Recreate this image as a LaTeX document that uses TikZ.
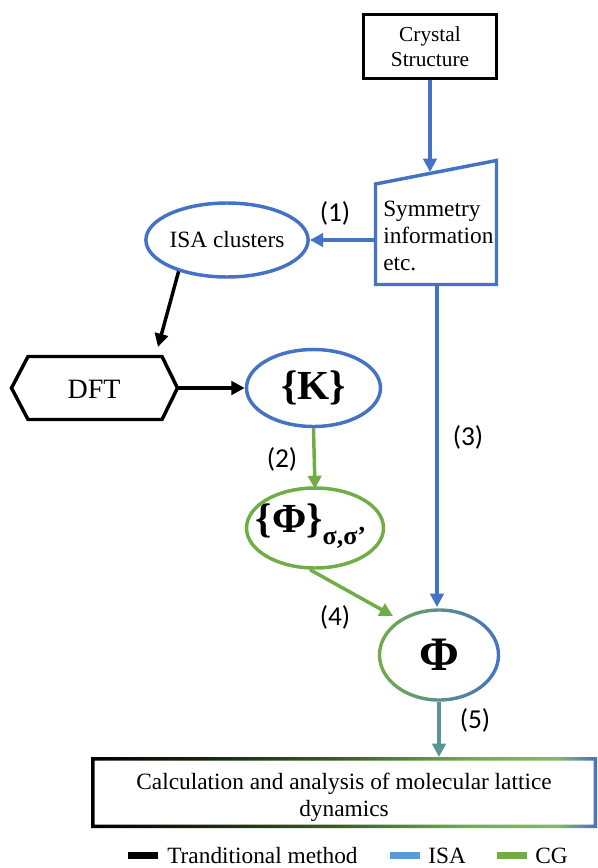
\documentclass[tikz,border=0pt]{standalone}
\usepackage{fontspec}
\setmainfont{Liberation Serif}
\newfontfamily\labfont{Carlito}
\usetikzlibrary{shapes.geometric,arrows.meta}
\definecolor{cblue}{HTML}{4472C4}
\definecolor{cgreen}{HTML}{70AD47}
\definecolor{lblue}{HTML}{5B9BD5}
\definecolor{cteal}{HTML}{5A9691}
\pgfdeclarehorizontalshading{boxshade}{100bp}{color(0bp)=(black); color(25bp)=(black); color(36bp)=(black!80!cgreen); color(50bp)=(black!45!cgreen); color(62bp)=(cgreen); color(71bp)=(cgreen!85!white); color(75bp)=(cblue); color(100bp)=(cblue)}
\tikzset{
  lw/.style={line width=2.6pt},
  tip/.style={-{Triangle[length=10pt,width=10pt]}},
  bluearr/.style={lw, cblue, tip},
  greenarr/.style={lw, cgreen, tip},
  blackarr/.style={lw, black, tip},
  ell/.style={ellipse, lw, inner sep=0pt},
  lab/.style={font=\labfont\fontsize{20.5}{22}\selectfont},
  txt/.style={font=\fontsize{17.5}{21}\selectfont}
}
\begin{document}
\begin{tikzpicture}[x=0.75pt,y=-0.75pt]
\useasboundingbox (0,0) rectangle (597,868);
% Crystal structure
\node[draw, lw, minimum width=99.75pt, minimum height=48pt, align=center, inner sep=0pt, font=\fontsize{16}{19}\selectfont] (crystal) at (430,46.5) {Crystal\\Structure};
% trapezoid (manual input)
\coordinate (tl) at (375.5,184);
\coordinate (tr) at (496.5,160.5);
\coordinate (br) at (496.5,284.5);
\coordinate (bl) at (375.5,284.5);
\draw[lw, cblue, line join=miter] (tl) -- (tr) -- (br) -- (bl) -- cycle;
\node[align=left, anchor=west, inner sep=0pt, font=\fontsize{17.5}{20.2}\selectfont] (sym) at (383,236) {Symmetry\\information\\etc.};
\coordinate (symL) at (375.5,240);
\coordinate (symTop) at (430,172);
\coordinate (symB1) at (437,284.5);
% ISA clusters
\node[draw=cblue, ell, minimum width=102.75pt, minimum height=55.5pt, txt] (isa) at (227,240) {ISA clusters};
% DFT hexagon
\draw[lw, line join=miter] (11.5,388) -- (28,356.5) -- (162,356.5) -- (177.5,388) -- (162,419.5) -- (28,419.5) -- cycle;
\node[font=\fontsize{21}{24}\selectfont] (dft) at (94,389) {DFT};
\coordinate (dftR) at (177.5,388);
\coordinate (dftT) at (158,347);
% K
\node[draw=cblue, ell, minimum width=100.5pt, minimum height=57.75pt, font=\bfseries\fontsize{31}{33}\selectfont] (K) at (313.5,388) {\{K\}};
% Phi sigma
\node[draw=cgreen, ell, minimum width=102.75pt, minimum height=60pt] (phis) at (315,528) {};
\node[inner sep=0pt] (phistxt) at (311,526) {\raisebox{2pt}{\bfseries\fontsize{31}{33}\selectfont\{Φ\}}\raisebox{-7pt}{\bfseries\fontsize{19.5}{20}\selectfont σ,σ’}};
% Phi
\node[ell, minimum width=89.25pt, minimum height=66pt, font=\bfseries\fontsize{36}{38}\selectfont] (phi) at (439,655) {Φ};
\shade[left color=cgreen, right color=cblue, even odd rule] (439,655) ellipse [x radius=61.2, y radius=46.7] (439,655) ellipse [x radius=57.8, y radius=43.3];
% bottom box
\node[minimum width=376.5pt, minimum height=50.5pt, align=center, font=\fontsize{17.5}{20.5}\selectfont, inner sep=0pt] (calc) at (344,797) {Calculation and analysis of molecular lattice\\dynamics};
\shade[shading=boxshade, even odd rule] (91,757) rectangle (597,828) (94.5,760.5) rectangle (593.5,824.5);
% arrows
\draw[bluearr] (crystal.south) -- (symTop);
\draw[bluearr] (symL) -- (isa.east);
\draw[blackarr] (isa.213) -- (dftT);
\draw[blackarr] (dftR) -- (K.west);
\draw[greenarr] (K.south |- 0,428) -- (315,489);
\draw[bluearr] (symB1) -- (437,607);
\draw[greenarr] (phis.south) ++(-5,0) -- (393,616);
\draw[lw, cteal, tip] (439,701.5) -- (439,757);
% labels
\node[lab] (l1) at (335,213) {(1)};
\node[lab] (l2) at (282,459) {(2)};
\node[lab] (l3) at (468,437) {(3)};
\node[lab] (l4) at (335,617) {(4)};
\node[lab] (l5) at (475,720) {(5)};
% legend
\fill[black] (128,851.5) rectangle (158,858.5);
\node[anchor=west, txt, inner sep=0pt] (lg1) at (167,856) {Tranditional method};
\fill[lblue] (390,851.5) rectangle (420,858.5);
\node[anchor=west, txt, inner sep=0pt] (lg2) at (428,856) {ISA};
\fill[cgreen] (497,851.5) rectangle (527,858.5);
\node[anchor=west, txt, inner sep=0pt] (lg3) at (535,856) {CG};
\end{tikzpicture}
\end{document}
